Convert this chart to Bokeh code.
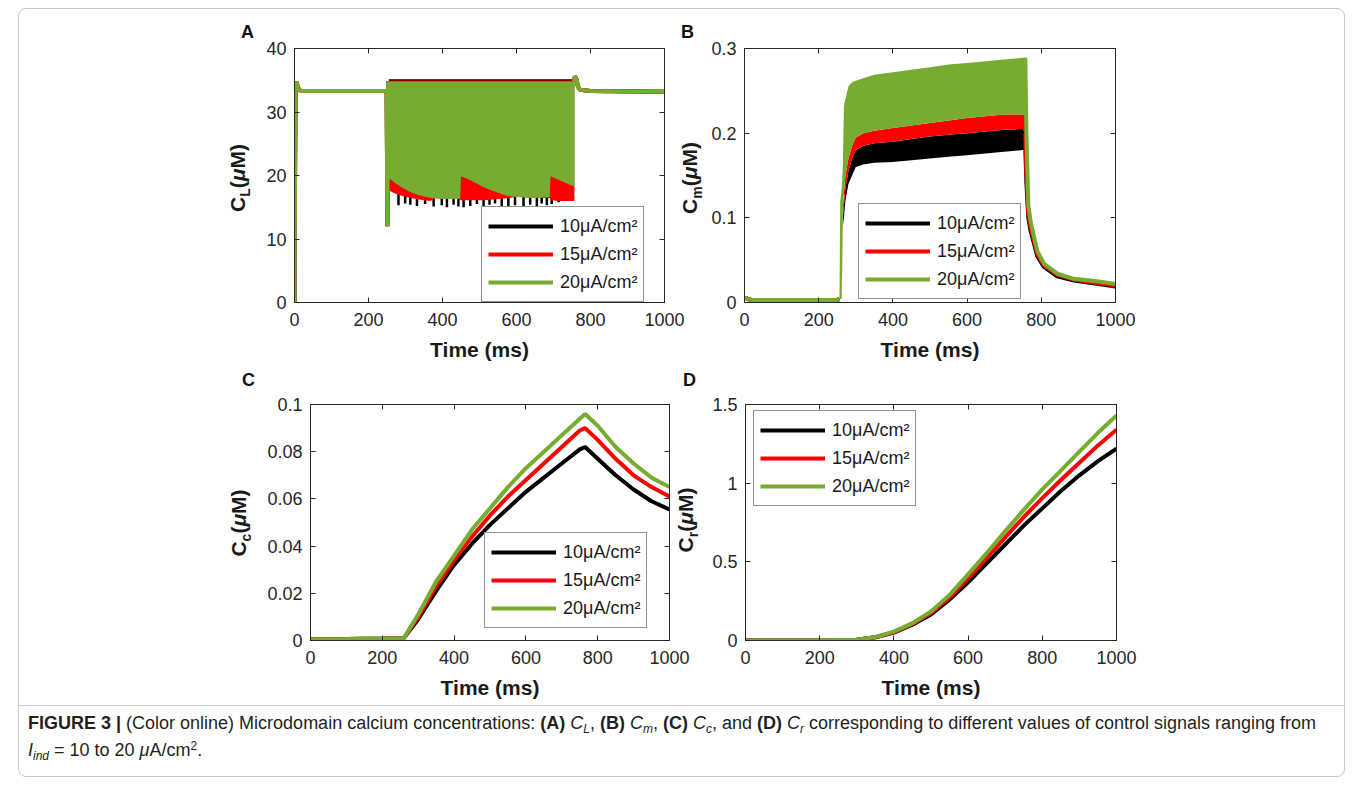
from bokeh.plotting import figure
from bokeh.models import (Range1d, LinearAxis, FixedTicker, CustomJSTickFormatter,
                          Legend, LegendItem, Div)
from bokeh.layouts import row, column
from bokeh.embed import file_html
from bokeh.resources import INLINE

# ------------------------------------------------------------------ data
series_labels = ["10μA/cm²", "15μA/cm²", "20μA/cm²"]
series_colors = ["#000000", "#ff0000", "#77ac30"]
time_ticks = [0, 200, 400, 600, 800, 1000]

# (A) C_L -- resting trace (shared by all three drives) and oscillation envelopes
cl_ticks = [0, 10, 20, 30, 40]
cl_rest_t = [0, 1, 3, 5, 8, 12, 20, 249, 251, 253]
cl_rest_v = [0.0, 15.0, 33.8, 34.8, 34.2, 33.5, 33.3, 33.3, 12.0, 34.8]
cl_recov_t = [755, 758, 762, 766, 772, 800, 1000]
cl_recov_v = [34.8, 35.6, 35.2, 34.0, 33.5, 33.3, 33.2]
cl_band_t = [255, 257, 270, 290, 310, 330, 350, 367, 380, 400, 420, 440, 448, 450, 470,
             490, 510, 530, 550, 574, 600, 630, 660, 690, 692, 710, 730, 745, 756]
cl_hi_10 = [35.15] * 29
cl_hi_15 = [34.98] * 29
cl_hi_20 = [34.8] * 29
cl_lo_20 = [19.5, 19.5, 18.9, 18.1, 17.5, 17.0, 16.7, 16.5, 16.4, 16.3, 16.3, 16.3, 16.4,
            19.9, 19.4, 18.8, 18.2, 17.7, 17.3, 16.8, 16.6, 16.5, 16.5, 16.6, 19.9, 19.4,
            18.9, 18.5, 18.3]
cl_lo_15 = [17.8, 17.6, 17.2, 16.8, 16.5, 16.3, 16.1, 16.0, 16.45, 16.35, 16.35, 16.35, 16.2,
            16.1, 16.1, 16.1, 16.1, 16.2, 16.3, 16.4, 16.65, 16.55, 16.55, 16.4, 16.2, 16.0,
            16.0, 16.0, 16.0]
cl_lo_10 = [17.9, 17.7, 17.3, 16.9, 16.6, 16.4, 16.2, 16.1, 16.5, 16.4, 16.4, 16.4, 16.3,
            16.2, 16.2, 16.2, 16.2, 16.3, 16.4, 16.5, 16.7, 16.6, 16.6, 16.5, 16.3, 16.1,
            16.1, 16.1, 16.1]
cl_spike_t = [281, 299, 313, 331, 353, 376, 398, 412, 430, 443, 457, 475, 493,
              511, 527, 542, 560, 578, 596, 619, 637, 655, 668, 682, 695, 714]
cl_spike_v = [15.3, 15.6, 15.4, 15.2, 15.5, 15.1, 15.3, 15.0, 15.4, 15.1, 15.0, 15.2, 15.5,
              15.1, 15.4, 15.6, 15.2, 15.0, 15.3, 15.1, 15.4, 15.2, 15.6, 15.3, 15.5, 15.8]

# (B) C_m
cm_ticks = [0, 0.1, 0.2, 0.3]
cm_rest_t = [0, 3, 8, 20, 100, 250, 256]
cm_rest_v = [0.004, 0.006, 0.004, 0.003, 0.003, 0.003, 0.004]
cm_band_t = [256, 258, 262, 265, 268, 272, 280, 290, 300, 320, 350, 400, 450,
             500, 550, 600, 650, 700, 750, 757]
cm_top_20 = [0.004, 0.12, 0.135, 0.16, 0.232, 0.24, 0.255, 0.26, 0.262, 0.265, 0.269, 0.272,
             0.275, 0.278, 0.281, 0.283, 0.285, 0.287, 0.289, 0.289]
cm_low_20 = [0.004, 0.004, 0.004, 0.11, 0.13, 0.15, 0.17, 0.185, 0.195, 0.2, 0.203, 0.206,
             0.209, 0.212, 0.215, 0.218, 0.220, 0.222, 0.222, 0.22]
cm_low_15 = [0.004, 0.004, 0.004, 0.10, 0.115, 0.135, 0.155, 0.17, 0.18, 0.185, 0.188, 0.19,
             0.193, 0.196, 0.198, 0.2, 0.202, 0.204, 0.205, 0.2]
cm_low_10 = [0.004, 0.004, 0.004, 0.09, 0.10, 0.12, 0.14, 0.15, 0.16, 0.163, 0.165, 0.166,
             0.168, 0.17, 0.172, 0.174, 0.176, 0.178, 0.18, 0.18]
cm_decay_t = [757, 760, 765, 771, 789, 807, 843, 888, 950, 1000]
cm_decay_10 = [0.18, 0.14, 0.10, 0.085, 0.055, 0.042, 0.031, 0.026, 0.022, 0.019]
cm_decay_15 = [0.2, 0.15, 0.105, 0.09, 0.058, 0.044, 0.033, 0.027, 0.023, 0.020]
cm_decay_20 = [0.289, 0.2, 0.115, 0.096, 0.061, 0.046, 0.034, 0.028, 0.025, 0.022]

# (C) C_c
cc_ticks = [0, 0.02, 0.04, 0.06, 0.08, 0.1]
cc_t = [0, 100, 200, 260, 300, 350, 400, 450, 500, 550, 600, 650, 700, 750, 765,
        800, 850, 900, 950, 1000]
cc_10 = [0.0005, 0.0006, 0.0008, 0.001, 0.009, 0.021, 0.032, 0.041, 0.049, 0.056, 0.063,
         0.069, 0.075, 0.081, 0.082, 0.077, 0.070, 0.064, 0.059, 0.0555]
cc_15 = [0.0005, 0.0006, 0.0008, 0.001, 0.010, 0.023, 0.034, 0.044, 0.053, 0.061, 0.068,
         0.075, 0.082, 0.089, 0.090, 0.085, 0.077, 0.070, 0.065, 0.061]
cc_20 = [0.0005, 0.0006, 0.0008, 0.001, 0.011, 0.025, 0.036, 0.047, 0.056, 0.065, 0.073,
         0.080, 0.087, 0.094, 0.096, 0.091, 0.082, 0.075, 0.069, 0.065]

# (D) C_r
cr_ticks = [0, 0.5, 1, 1.5]
cr_t = [0, 200, 300, 350, 400, 450, 500, 550, 600, 650, 700, 750, 800, 850, 900, 950, 1000]
cr_10 = [0, 0.001, 0.005, 0.02, 0.05, 0.10, 0.165, 0.26, 0.37, 0.49, 0.61, 0.73, 0.84,
         0.95, 1.05, 1.14, 1.22]
cr_15 = [0, 0.001, 0.005, 0.021, 0.053, 0.105, 0.175, 0.275, 0.395, 0.525, 0.655, 0.785,
         0.905, 1.02, 1.13, 1.24, 1.34]
cr_20 = [0, 0.001, 0.005, 0.022, 0.056, 0.11, 0.185, 0.29, 0.42, 0.555, 0.695, 0.83,
         0.96, 1.08, 1.2, 1.32, 1.43]

# ------------------------------------------------------------------ styling
AX = "#262626"
FONT = "Liberation Sans"
TICK_PX = 18
TITLE_PX = 21
ORIGIN = (19, 9)          # page position of the layout's content box

label_fmt = CustomJSTickFormatter(code="return String(Math.round(tick * 10000) / 10000);")
blank_fmt = CustomJSTickFormatter(code="return '';")


def style_axis(ax, ticks, fmt):
    ax.ticker = FixedTicker(ticks=ticks)
    ax.formatter = fmt
    ax.axis_line_color = AX
    ax.major_tick_line_color = AX
    ax.major_tick_in = 5
    ax.major_tick_out = 0
    ax.minor_tick_line_color = None
    ax.major_label_text_font = FONT
    ax.major_label_text_font_size = f"{TICK_PX}px"
    ax.major_label_text_color = AX


def panel(canvas, frame, y_end, y_ticks, shift=0):
    """A boxed MATLAB-style axes whose frame sits at fixed page coordinates."""
    cx, cy, cw, ch = canvas
    fl, fr, ft, fb = frame
    p = figure(width=cw, height=ch, x_range=Range1d(0, 1000), y_range=Range1d(0, y_end),
               output_backend="svg", toolbar_location=None,
               min_border_left=fl - cx, min_border_right=cx + cw - fr,
               min_border_top=ft - cy, min_border_bottom=cy + ch - fb)
    p.grid.visible = False
    p.outline_line_color = AX
    p.outline_line_width = 1
    p.background_fill_color = "white"
    p.border_fill_color = None
    if shift:
        p.margin = (0, 0, 0, -shift)
    style_axis(p.xaxis[0], time_ticks, label_fmt)
    style_axis(p.yaxis[0], y_ticks, label_fmt)
    xa = p.xaxis[0]
    xa.axis_label = "Time (ms)"
    xa.axis_label_text_font = FONT
    xa.axis_label_text_font_size = f"{TITLE_PX}px"
    xa.axis_label_text_font_style = "bold"
    xa.axis_label_text_color = "#1a1a1a"
    xa.major_label_standoff = 10
    xa.axis_label_standoff = 9
    p.yaxis[0].major_label_standoff = 8
    top = LinearAxis()
    style_axis(top, time_ticks, blank_fmt)
    p.add_layout(top, "above")
    right = LinearAxis()
    style_axis(right, y_ticks, blank_fmt)
    p.add_layout(right, "right")
    return p


def add_legend(p, frame, renderers, left, bottom):
    fl, fr, ft, fb = frame
    lg = Legend(items=[LegendItem(label=lab, renderers=[r])
                       for lab, r in zip(series_labels, renderers)],
                location=(left - fl, fb - bottom),
                label_text_font=FONT, label_text_font_size="18px",
                label_text_color="#1a1a1a",
                glyph_width=65, glyph_height=26, label_height=26,
                spacing=2, padding=6, label_standoff=7, margin=0,
                border_line_color=AX, border_line_width=1,
                background_fill_color="white", background_fill_alpha=1)
    p.add_layout(lg)


# ------------------------------------------------------------------ panel A
frame_a = (294, 664, 48, 302)
pa = panel((19, 9, 681, 356), frame_a, 40, cl_ticks)
lines_a = []
for lo, hi, col in [(cl_lo_10, cl_hi_10, series_colors[0]),
                    (cl_lo_15, cl_hi_15, series_colors[1]),
                    (cl_lo_20, cl_hi_20, series_colors[2])]:
    pa.varea(x=cl_band_t, y1=lo, y2=hi, fill_color=col)
    if col == series_colors[0]:
        pa.segment(x0=cl_spike_t, y0=[17.5] * len(cl_spike_t), x1=cl_spike_t, y1=cl_spike_v,
                   line_color=col, line_width=2.5)
    r = pa.line(cl_rest_t, cl_rest_v, line_color=col, line_width=4)
    pa.line(cl_recov_t, cl_recov_v, line_color=col, line_width=4)
    lines_a.append(r)
add_legend(pa, frame_a, lines_a, 481, 302)

# ------------------------------------------------------------------ panel B
frame_b = (744, 1115, 48, 306)
pb = panel((660, 9, 684, 356), frame_b, 0.3, cm_ticks, shift=40)
lines_b = []
bands_b = [(cm_low_10, cm_low_15), (cm_low_15, cm_low_20), (cm_low_20, cm_top_20)]
for (lo, hi), dec, col in zip(bands_b, [cm_decay_10, cm_decay_15, cm_decay_20], series_colors):
    pb.varea(x=cm_band_t, y1=lo, y2=hi, fill_color=col)
    r = pb.line(cm_rest_t, cm_rest_v, line_color=col, line_width=4)
    pb.line(cm_decay_t, dec, line_color=col, line_width=4)
    lines_b.append(r)
add_legend(pb, frame_b, lines_b, 858, 303)

# ------------------------------------------------------------------ panel C
frame_c = (310, 669, 404, 640)
pc = panel((19, 365, 681, 340), frame_c, 0.1, cc_ticks)
lines_c = [pc.line(cc_t, v, line_color=col, line_width=4)
           for v, col in zip([cc_10, cc_15, cc_20], series_colors)]
add_legend(pc, frame_c, lines_c, 484, 628)

# ------------------------------------------------------------------ panel D
frame_d = (745, 1116, 398, 642)
pd = panel((660, 365, 684, 340), frame_d, 1.5, cr_ticks, shift=40)
lines_d = [pd.line(cr_t, v, line_color=col, line_width=4)
           for v, col in zip([cr_10, cr_15, cr_20], series_colors)]
add_legend(pd, frame_d, lines_d, 753, 508)


# ------------------------------------------------------------------ panel letters and y titles
def letter(ch, left, baseline):
    size = 18
    top = baseline - 0.85 * size
    return (f"<div style=\"position:absolute;left:{left - ORIGIN[0]}px;top:{top - ORIGIN[1]}px;"
            f"font:bold {size}px 'Liberation Sans';line-height:{size}px;color:#111;\">{ch}</div>")


def ytitle(sub, cx, cy):
    return (f"<div style=\"position:absolute;left:{cx - ORIGIN[0]}px;top:{cy - ORIGIN[1]}px;"
            f"transform:translate(-50%,-50%) rotate(-90deg);white-space:nowrap;"
            f"font:bold {TITLE_PX}px 'Liberation Sans';line-height:{TITLE_PX}px;color:#1a1a1a;\">"
            f"C<span style=\"font-size:14px;position:relative;top:5px;\">{sub}</span>"
            f"(<i>μ</i>M)</div>")


overlay_html = ("<div style=\"position:relative;width:1325px;height:767px;\">"
                + letter("A", 241, 38) + letter("B", 681, 38)
                + letter("C", 242, 386) + letter("D", 683, 386)
                + ytitle("L", 238.5, 177.5) + ytitle("m", 691, 178)
                + ytitle("c", 239.5, 523) + ytitle("r", 687, 520)
                + "</div>")
overlay = Div(text=overlay_html, width=1325, height=767, margin=0,
              styles={"position": "absolute", "left": "0px", "top": "0px",
                      "z-index": "5", "pointer-events": "none"})

# ------------------------------------------------------------------ caption
SUB = "font-size:12px;position:relative;top:4px;"
SUP = "font-size:12px;position:relative;top:-6px;"
caption_html = (
    "<div style=\"font-family:'Liberation Sans Narrow','Liberation Sans',sans-serif;"
    "font-size:18px;color:#231f20;line-height:25px;white-space:nowrap;padding:5px 0 0 9px;\">"
    "<div><b>FIGURE 3 |</b> (Color online) Microdomain calcium concentrations: "
    f"<b>(A)</b> <i>C<span style='{SUB}'>L</span></i>, <b>(B)</b> <i>C<span style='{SUB}'>m</span></i>, "
    f"<b>(C)</b> <i>C<span style='{SUB}'>c</span></i>, and <b>(D)</b> <i>C<span style='{SUB}'>r</span></i> "
    "corresponding to different values of control signals ranging from</div>"
    f"<div><i>I<span style='{SUB}'>ind</span></i> = 10 to 20 <i>μ</i>A/cm<span style='{SUP}'>2</span>.</div>"
    "</div>"
)
caption = Div(text=caption_html, width=1325, height=71, margin=0,
              styles={"border-top": "1px solid #c8c8c8"})

layout = column(row(pa, pb), row(pc, pd), caption, overlay,
                margin=(8, 0, 0, 18),
                styles={"border": "1px solid #c8c8c8", "border-radius": "8px"})

open("out.html", "w").write(file_html(layout, INLINE))
